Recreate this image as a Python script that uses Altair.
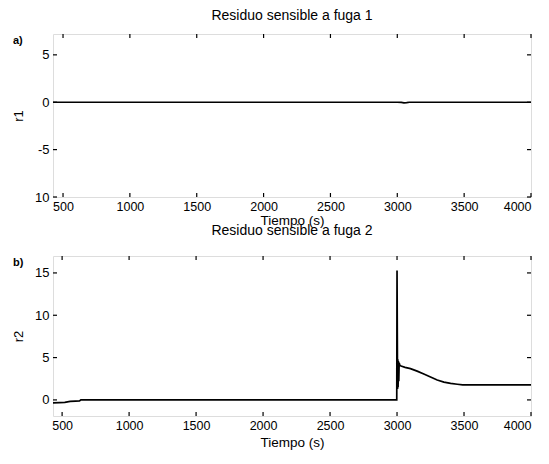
import altair as alt
import pandas as pd

# ---- data ----
t1 = [425, 3000, 3030, 3050, 3070, 3090, 4000]
r1 = [0.0, 0.0, -0.02, -0.06, -0.05, 0.0, 0.0]

t2 = [432, 480, 520, 560, 600, 630, 640, 2998, 3000, 3002, 3004, 3006, 3008,
      3010, 3013, 3016, 3020, 3030, 3060, 3100, 3150, 3200, 3250, 3300, 3350,
      3400, 3450, 3490, 4000]
r2 = [-0.35, -0.33, -0.3, -0.18, -0.15, -0.12, 0.0, 0.0, 15.3, 8.0, 1.3, 4.8,
      1.5, 4.6, 2.2, 4.4, 4.1, 4.0, 3.85, 3.7, 3.4, 3.05, 2.7, 2.35, 2.1,
      1.95, 1.85, 1.78, 1.78]

x_ticks = [500, 1000, 1500, 2000, 2500, 3000, 3500, 4000]
y1_ticks = [-10, -5, 0, 5]
y2_ticks = [0, 5, 10, 15]

titles = ["Residuo sensible a fuga 1", "Residuo sensible a fuga 2"]
ylabels = ["r1", "r2"]
tags = ["a)", "b)"]

FONT = "Liberation Sans"


def panel(t, r, xdom, ydom, yvals, title, ylabel, tag, W, H, title_offset, xtp):
    xs = alt.Scale(domain=xdom, nice=False, zero=False)
    ys = alt.Scale(domain=ydom, nice=False, zero=False)
    xaxis = alt.Axis(values=x_ticks, title="Tiempo (s)", ticks=False, domain=False,
                     grid=False, labelPadding=3, titlePadding=xtp, labelFontSize=12.5,
                     titleFontSize=13.5, titleFontWeight="normal", labelColor="black",
                     titleColor="black", labelFont=FONT, titleFont=FONT, format="d")
    yaxis = alt.Axis(values=yvals, title=ylabel, ticks=False, domain=False, grid=False,
                     labelPadding=4, titlePadding=9, labelFontSize=13, titleFontSize=13,
                     titleFontWeight="normal", labelColor="black", titleColor="black",
                     labelFont=FONT, titleFont=FONT,
                     labelExpr="datum.value == -10 ? '10' : '' + datum.value")
    df = pd.DataFrame({"t": t, "r": r})
    line = alt.Chart(df).mark_line(color="black", strokeWidth=1.7, clip=True).encode(
        x=alt.X("t:Q", scale=xs, axis=xaxis),
        y=alt.Y("r:Q", scale=ys, axis=yaxis),
    )
    xt = pd.DataFrame({"t": x_ticks})
    yt = pd.DataFrame({"r": yvals})
    xb = alt.Chart(xt).mark_rule(color="black", strokeWidth=1.2).encode(
        x=alt.X("t:Q", scale=xs, axis=xaxis), y=alt.value(H), y2=alt.value(H - 4))
    xtop = alt.Chart(xt).mark_rule(color="black", strokeWidth=1.2).encode(
        x=alt.X("t:Q", scale=xs, axis=xaxis), y=alt.value(0), y2=alt.value(4))
    yl = alt.Chart(yt).mark_rule(color="black", strokeWidth=1.2).encode(
        y=alt.Y("r:Q", scale=ys, axis=yaxis), x=alt.value(0), x2=alt.value(4))
    yr = alt.Chart(yt).mark_rule(color="black", strokeWidth=1.2).encode(
        y=alt.Y("r:Q", scale=ys, axis=yaxis), x=alt.value(W - 4), x2=alt.value(W))
    lab = alt.Chart(pd.DataFrame({"s": [tag]})).mark_text(
        align="left", baseline="middle", fontSize=11, fontWeight="bold", font=FONT,
        color="black").encode(x=alt.value(-40), y=alt.value(7), text="s:N")
    return alt.layer(line, xb, xtop, yl, yr, lab).properties(
        width=W, height=H,
        title=alt.TitleParams(title, fontSize=14, fontWeight="normal", font=FONT,
                              color="black", offset=title_offset),
    )


top = panel(t1, r1, [425, 4000], [-10, 7.2], y1_ticks, titles[0], ylabels[0], tags[0],
            478, 163, 10, 1)
bottom = panel(t2, r2, [432, 4000], [-1.9, 17.0], y2_ticks, titles[1], ylabels[1],
               tags[1], 478, 160, 17, 4)

chart = alt.vconcat(top, bottom, spacing=59, bounds="flush").properties(
    padding={"left": 4, "top": 0, "right": 0, "bottom": 4}
).configure_view(stroke="black", strokeWidth=1.4).configure(background="white")

chart.save("out.html", embed_options={"renderer": "svg", "actions": False})
